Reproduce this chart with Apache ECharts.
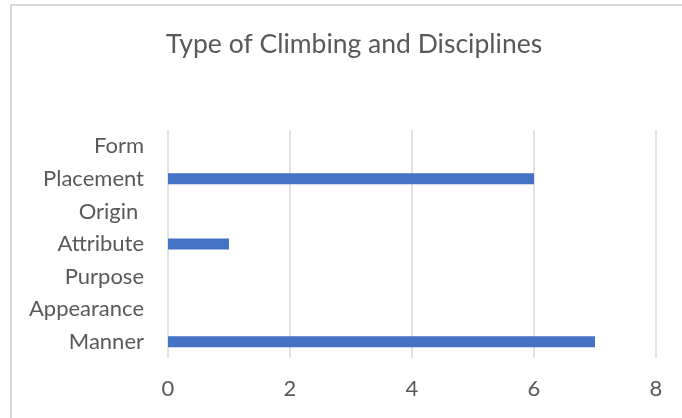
<!DOCTYPE html>
<html>
<head>
<meta charset="utf-8">
<script src="https://cdn.jsdelivr.net/npm/echarts@6/dist/echarts.min.js"></script>
<style>html,body{margin:0;padding:0;background:#fff}#c{width:682px;height:418px}</style>
</head>
<body>
<div id="c"></div>
<script>
const categories = ["Manner", "Appearance", "Purpose", "Attribute", "Origin ", "Placement", "Form"];
const values = [7, 0, 0, 1, 0, 6, 0];
const xTicks = [0, 2, 4, 6, 8];
const titleText = "Type of Climbing and Disciplines";

const chart = echarts.init(document.getElementById('c'), null, {renderer: 'canvas'});
const font = 'Lato';
chart.setOption({
  animation: false,
  backgroundColor: '#fff',
  title: {
    text: titleText,
    left: 161,
    top: 26,
    textStyle: {fontFamily: font, fontSize: 26.5, fontWeight: 'normal', color: '#595959'}
  },
  graphic: [
    {type: 'line', shape: {x1: 10, y1: 5, x2: 682, y2: 5}, style: {stroke: '#d9d9d9', lineWidth: 2}},
    {type: 'line', shape: {x1: 11, y1: 5, x2: 11, y2: 418}, style: {stroke: '#d9d9d9', lineWidth: 2}}
  ],
  grid: {left: 168, right: 26, top: 130, bottom: 60, containLabel: false},
  xAxis: {
    type: 'value', min: xTicks[0], max: xTicks[xTicks.length - 1], interval: 2,
    axisLine: {show: false}, axisTick: {show: false},
    splitLine: {show: true, lineStyle: {color: '#d9d9d9', width: 1.5}},
    axisLabel: {fontFamily: font, fontSize: 22, color: '#595959', margin: 20}
  },
  yAxis: {
    type: 'category', data: categories,
    axisLine: {show: false}, axisTick: {show: false},
    axisLabel: {fontFamily: font, fontSize: 22, color: '#595959', margin: 24}
  },
  series: [{
    type: 'bar', data: values, barWidth: 11,
    itemStyle: {color: '#4472C4'}
  }]
});
</script>
</body>
</html>
